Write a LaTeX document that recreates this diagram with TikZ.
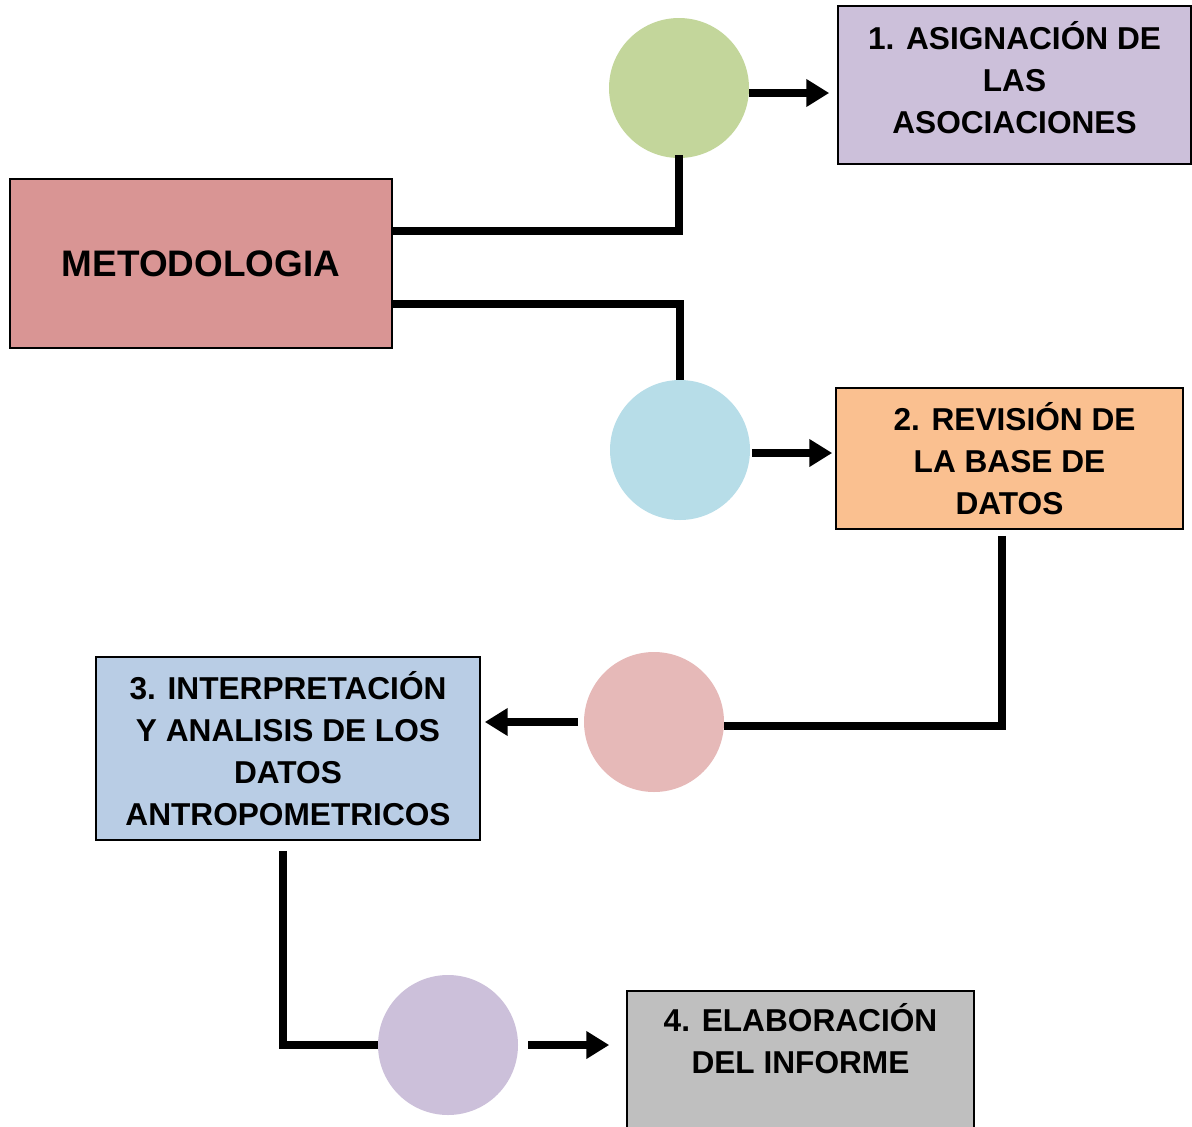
\documentclass[tikz,border=0pt]{standalone}
\usepackage{fontspec}
\setmainfont{Liberation Sans}
\usetikzlibrary{arrows.meta}

\definecolor{metofill}{HTML}{D99594}
\definecolor{lilac}{HTML}{CCC0DA}
\definecolor{peach}{HTML}{FAC090}
\definecolor{paleblue}{HTML}{B9CDE5}
\definecolor{silver}{HTML}{BFBFBF}
\definecolor{sage}{HTML}{C3D69B}
\definecolor{aqua}{HTML}{B7DDE8}
\definecolor{rose}{HTML}{E6B9B8}

\begin{document}
\begin{tikzpicture}[x=0.2mm, y=-0.2mm,
    box/.style={rectangle, draw=black, line width=0.9pt, align=center, inner sep=0pt, font=\fontsize{18}{23.9}\selectfont\bfseries},
    dot/.style={circle, minimum size=28mm, inner sep=0pt},
    link/.style={line width=4pt},
    arrow/.style={line width=4pt, -{Triangle[length=13pt, width=15pt]}}
]
\useasboundingbox (0,0) rectangle (1192,1127);
\clip (0,0) rectangle (1192,1127);

% Nodes
\node[box, fill=metofill, minimum width=76.4mm, minimum height=33.8mm, font=\fontsize{21}{25}\selectfont\bfseries] (metodo) at (201, 263.5) {METODOLOGIA};

\node[box, fill=lilac,    minimum width=70.6mm, minimum height=31.6mm] (asig)     at (1014.5, 85)   {1. ASIGNACIÓN DE\\LAS\\ASOCIACIONES\\[-14.9pt]\mbox{}};
\node[box, fill=peach,    minimum width=69.4mm, minimum height=28.2mm] (revision) at (1009.5, 458.5) {\hspace*{2mm}2. REVISIÓN DE\\LA BASE DE\\DATOS};
\node[box, fill=paleblue, minimum width=76.8mm, minimum height=36.6mm] (interp)   at (288, 748.5)   {3. INTERPRETACIÓN\\Y ANALISIS DE LOS\\DATOS\\ANTROPOMETRICOS};
\node[box, fill=silver,   minimum width=69.4mm, minimum height=28.8mm] (informe)  at (800.5, 1063)  {4. ELABORACIÓN\\DEL INFORME\\[4.5pt]\mbox{}};

\node[dot, fill=sage]  (c1) at (679, 88)   {};
\node[dot, fill=aqua]  (c2) at (680, 450)  {};
\node[dot, fill=rose]  (c3) at (654, 722)  {};
\node[dot, fill=lilac] (c4) at (448, 1045) {};

% Connections from METODOLOGIA to the circles
\draw[link] ([yshift=6.5mm]metodo.east) -| ([yshift=0.6mm]c1.south);
\draw[link] ([yshift=-8.1mm]metodo.east) -| (c2.north);

% Circles to steps
\draw[arrow, shorten >=1.6mm] ([yshift=-1mm]c1.east) -- ([yshift=-1mm]c1.east -| asig.west);
\draw[arrow, shorten <=0.4mm, shorten >=0.6mm] ([yshift=-0.6mm]c2.east) -- ([yshift=-0.6mm]c2.east -| revision.west);
\draw[arrow, shorten <=1.2mm, shorten >=0.8mm] (c3.west) -- (c3.west -| interp.east);
\draw[arrow, shorten <=2mm, shorten >=3.4mm] (c4.east) -- (c4.east -| informe.west);

% Steps to the next circle
\draw[link, shorten <=1.2mm] ([xshift=-1.5mm]revision.south) |- ([yshift=-0.8mm]c3.east);
\draw[link, shorten <=2mm] ([xshift=-1mm]interp.south) |- (c4.west);

\end{tikzpicture}
\end{document}
